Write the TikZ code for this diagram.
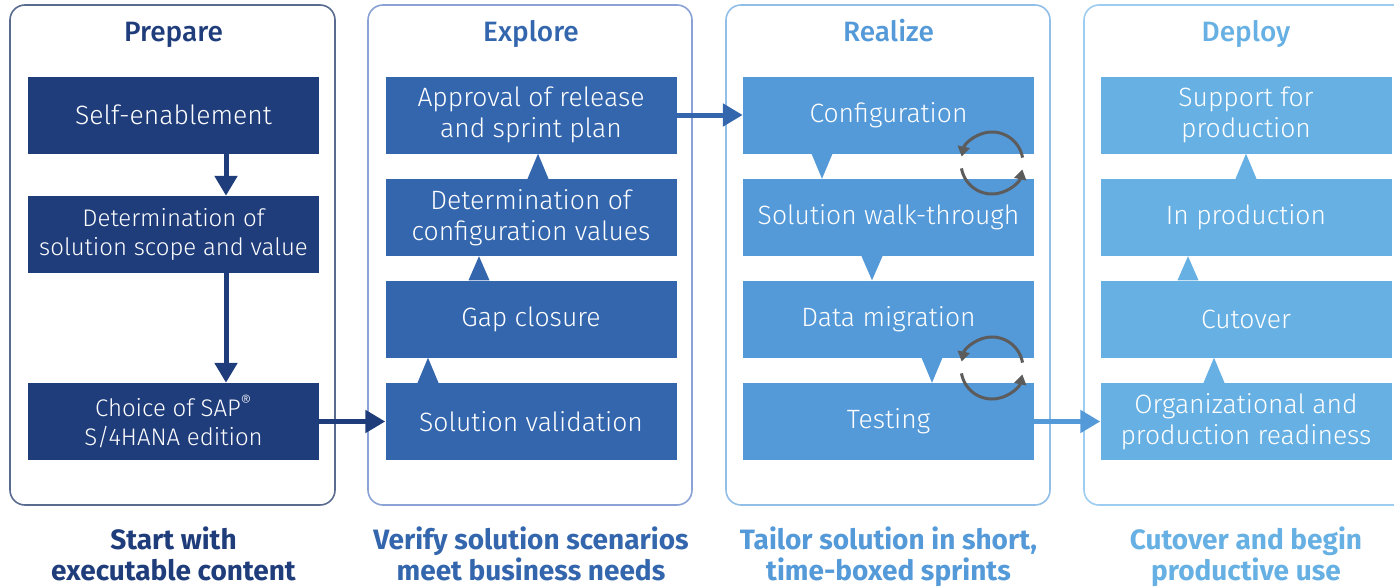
\documentclass[tikz,border=0pt]{standalone}
\usepackage{fontspec}
\setmainfont{Fira Sans}[UprightFont={* Light}, BoldFont={* Bold}]
\newfontfamily\headfont{Fira Sans Medium}
\usetikzlibrary{arrows.meta,calc}

% phase colours
\definecolor{cA}{HTML}{1F3D7B}
\definecolor{cB}{HTML}{3366AD}
\definecolor{cC}{HTML}{5499D8}
\definecolor{cD}{HTML}{67B0E3}
% frame colours
\definecolor{bA}{HTML}{5A6B90}
\definecolor{bB}{HTML}{8AA2D6}
\definecolor{bC}{HTML}{92BFE8}
\definecolor{bD}{HTML}{9DCDF0}
\definecolor{loopgray}{HTML}{5C5C5C}

\tikzset{
  frame/.style={line width=1.6pt, rounded corners=15pt},
  stage/.style={rectangle, minimum width=291pt, minimum height=77pt,
    inner sep=0pt, text=white, align=center,
    font=\fontsize{26.5}{31}\selectfont},
  smallstage/.style={stage, font=\fontsize{24}{29}\selectfont},
  phase/.style={anchor=base, font=\headfont\fontsize{28}{30}\selectfont},
  goal/.style={anchor=base, align=center, inner sep=0pt,
    font=\bfseries\fontsize{28}{31}\selectfont},
  flow/.style={line width=5pt, -{Triangle[width=22pt,length=20pt]}},
  loop/.style={line width=3pt, loopgray, -{Triangle[width=12pt,length=10pt]}}
}

% callout pointer: colour, x position, node it grows from, node it points to
\newcommand{\pointer}[4]{%
  \fill[#1] (#2-10.5,0 |- #3) -- (#2,0 |- #4) -- (#2+10.5,0 |- #3) -- cycle;}

\begin{document}
\begin{tikzpicture}[x=1pt, y=-1pt]
\useasboundingbox (0,0) rectangle (1394,586);
\clip (0,0) rectangle (1394,586);

% phase frames
\draw[frame, bA] (10,5) rectangle (335,505);
\draw[frame, bB] (368,5) rectangle (692,505);
\draw[frame, bC] (726,5) rectangle (1050,505);
\draw[frame, bD] (1084,5) rectangle (1410,505);

% phase titles
\node[phase, text=cA] (tA) at (173.5,42) {Prepare};
\node[phase, text=cB] (tB) at (531,42) {Explore};
\node[phase, text=cC] (tC) at (888.5,42) {Realize};
\node[phase, text=cD] (tD) at (1246,42) {Deploy};

% Prepare
\node[stage, fill=cA] (p1) at (173.5,115) {Self-enablement};
\node[smallstage, fill=cA] (p2) at (173.5,234.5) {Determination of\\solution scope and value};
\node[smallstage, fill=cA] (p3) at (173.5,421.5) {Choice of SAP\textsuperscript{®}\\S/4HANA edition};

% Explore
\node[stage, fill=cB] (e1) at (531,115) {Approval of release\\and sprint plan};
\node[stage, fill=cB] (e2) at (531,217.5) {Determination of\\configuration values};
\node[stage, fill=cB] (e3) at (531,319) {Gap closure};
\node[stage, fill=cB] (e4) at (531,421.5) {Solution validation};

% Realize
\node[stage, fill=cC] (r1) at (888.5,115) {Configuration};
\node[stage, fill=cC] (r2) at (888.5,217.5) {Solution walk-through};
\node[stage, fill=cC] (r3) at (888.5,319) {Data migration};
\node[stage, fill=cC] (r4) at (888.5,421.5) {Testing};

% Deploy
\node[stage, fill=cD] (d1) at (1246,115) {Support for\\production};
\node[stage, fill=cD] (d2) at (1246,217.5) {In production};
\node[stage, fill=cD] (d3) at (1246,319) {Cutover};
\node[stage, fill=cD] (d4) at (1246,421.5) {Organizational and\\production readiness};

% callout pointers between stacked stages
\pointer{cB}{538}{e2.north}{e1.south}
\pointer{cB}{479}{e3.north}{e2.south}
\pointer{cB}{428}{e4.north}{e3.south}
\pointer{cC}{822}{r1.south}{r2.north}
\pointer{cC}{872}{r2.south}{r3.north}
\pointer{cC}{932}{r3.south}{r4.north}
\pointer{cD}{1246}{d2.north}{d1.south}
\pointer{cD}{1188}{d3.north}{d2.south}
\pointer{cD}{1214}{d4.north}{d3.south}

% connectors
\draw[flow, cA] (226,0 |- p1.south) -- (226,0 |- p2.north);
\draw[flow, cA] (226,0 |- p2.south) -- (226,0 |- p3.north);
\draw[flow, cA] (p3.east) -- (e4.west);
\draw[flow, cB] (e1.east) -- (r1.west);
\draw[flow, cC] (r4.east) -- (d4.west);

% iteration loops
\coordinate (l1) at (992,163);
\coordinate (l2) at (992,368);
\draw[loop] (l1) ++(-10:31) arc[start angle=-10, end angle=-168, radius=31];
\draw[loop] (l1) ++(170:31) arc[start angle=170, end angle=12, radius=31];
\draw[loop] (l2) ++(-10:31) arc[start angle=-10, end angle=-168, radius=31];
\draw[loop] (l2) ++(170:31) arc[start angle=170, end angle=12, radius=31];

% phase goals
\node[goal, text=cA] (gA) at (173.5,580) {Start with\\executable content};
\node[goal, text=cB] (gB) at (531,580) {Verify solution scenarios\\meet business needs};
\node[goal, text=cC] (gC) at (888.5,580) {Tailor solution in short,\\time-boxed sprints};
\node[goal, text=cD] (gD) at (1246,580) {Cutover and begin\\productive use};
\end{tikzpicture}
\end{document}
